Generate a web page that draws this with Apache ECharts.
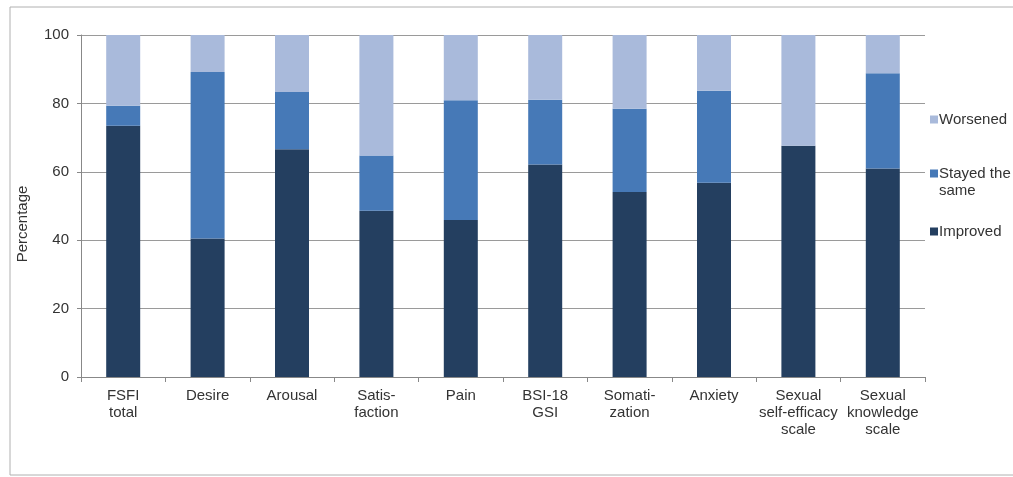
<!DOCTYPE html>
<html>
<head>
<meta charset="utf-8">
<script src="https://cdn.jsdelivr.net/npm/echarts@6/dist/echarts.min.js"></script>
<style>
html,body{margin:0;padding:0;background:#fff;}
#chart{width:1013px;height:477px;}
</style>
</head>
<body>
<div id="chart"></div>
<script>
const categories = ['FSFI\ntotal','Desire','Arousal','Satis-\nfaction','Pain','BSI-18\nGSI','Somati-\nzation','Anxiety','Sexual\nself-efficacy\nscale','Sexual\nknowledge\nscale'];
const improved = [73.5, 40.5, 66.6, 48.6, 45.9, 62.1, 54.1, 56.8, 67.6, 61.0];
const stayed   = [5.8, 48.7, 16.7, 16.2, 35.0, 19.0, 24.3, 26.9, 0, 27.8];
const worsened = [20.7, 10.8, 16.7, 35.2, 19.1, 18.9, 21.6, 16.3, 32.4, 11.2];
const yTicks = [0, 20, 40, 60, 80, 100];

const FONT = '"Liberation Sans", Arial, sans-serif';
const FS = 15;
const TXT = '#333333';
const C_IMP = '#243f60';
const C_STA = '#4679b7';
const C_WOR = '#a9badb';

const chart = echarts.init(document.getElementById('chart'), null, {renderer:'canvas'});
function legendFor(name, top, formatter, icon, iconH){
  return {
    show:true, orient:'vertical', left:930, top:top, padding:0,
    data:[name], itemWidth:8, itemHeight: iconH || 8, itemGap:0, icon: icon || 'rect',
    selectedMode:false,
    formatter: formatter || '{name}',
    textStyle:{fontFamily:FONT, fontSize:FS, color:TXT, lineHeight:17, padding:[0,0,0,-4]}
  };
}
chart.setOption({
  animation:false,
  backgroundColor:'#fff',
  graphic:[{
    type:'rect', shape:{x:10, y:7, width:1010, height:468},
    style:{fill:'none', stroke:'#b0b0b0', lineWidth:1}, silent:true, z:-1
  }],
  legend:[
    legendFor('Worsened', 111),
    legendFor('Stayed the same', 165, 'Stayed the\nsame', 'path://M0,0L8,0L8,0.01L0,0.01ZM0,4.5L8,4.5L8,12.5L0,12.5ZM0,33.99L8,33.99L8,34L0,34Z', 34),
    legendFor('Improved', 223)
  ],
  grid:{left:81, right:88, top:35, bottom:100, containLabel:false},
  xAxis:{
    type:'category', data:categories,
    axisLine:{show:true, lineStyle:{color:'#888', width:1}},
    axisTick:{show:true, length:5, lineStyle:{color:'#888'}},
    axisLabel:{fontFamily:FONT, fontSize:FS, color:TXT, lineHeight:17, margin:10, interval:0}
  },
  yAxis:{
    type:'value', min:yTicks[0], max:yTicks[yTicks.length-1], interval:20,
    name:'Percentage', nameLocation:'middle', nameGap:51, nameRotate:90,
    nameTextStyle:{fontFamily:FONT, fontSize:FS, color:TXT, padding:[0,36,0,0]},
    axisLine:{show:true, lineStyle:{color:'#888', width:1}},
    axisTick:{show:true, length:4, lineStyle:{color:'#888'}},
    axisLabel:{fontFamily:FONT, fontSize:FS, color:TXT, margin:12},
    splitLine:{show:true, lineStyle:{color:'#9a9a9a', width:1}}
  },
  series:[
    {name:'Improved', type:'bar', stack:'s', data:improved, barWidth:34, itemStyle:{color:C_IMP}},
    {name:'Stayed the same', type:'bar', stack:'s', data:stayed, barWidth:34, itemStyle:{color:C_STA}},
    {name:'Worsened', type:'bar', stack:'s', data:worsened, barWidth:34, itemStyle:{color:C_WOR}}
  ]
});
</script>
</body>
</html>
